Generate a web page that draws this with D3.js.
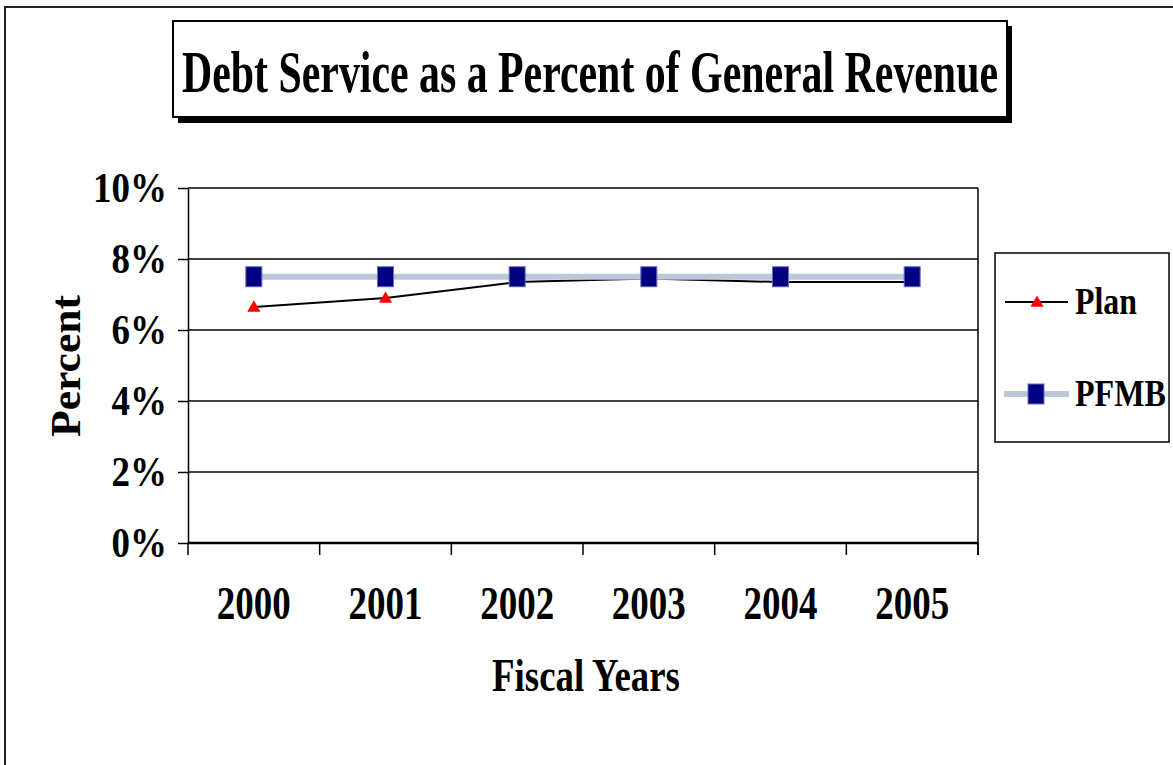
<!DOCTYPE html>
<html>
<head>
<meta charset="utf-8">
<script src="https://cdn.jsdelivr.net/npm/d3@7"></script>
<style>
  body { margin: 0; background: #fff; }
  svg { display: block; }
  text { font-family: "Liberation Serif", "Times New Roman", serif; font-weight: bold; fill: #000; }
</style>
</head>
<body>
<svg id="chart" width="1173" height="765"></svg>
<script>
// DATA
const years = ['2000', '2001', '2002', '2003', '2004', '2005']
const planValues = [0.0665, 0.069, 0.0735, 0.0745, 0.0735, 0.0735]
const pfmbValues = [0.075, 0.075, 0.075, 0.075, 0.075, 0.075]
const yTicks = [0, 0.02, 0.04, 0.06, 0.08, 0.10]
const seriesNames = ['Plan', 'PFMB']

const svg = d3.select('#chart')

// squeeze a text horizontally to a given width, anchored at (px, py)
function condensed(parent, str, px, py, size, width, anchor) {
    let g = parent.append('g')
    let t = g.append('text')
        .attr('font-size', size)
        .attr('text-anchor', anchor || 'start')
        .text(str)
    let k = width / t.node().getComputedTextLength()
    g.attr('transform', `translate(${px},${py}) scale(${k},1)`)
    return t
}

// OUTER FRAME
svg.append('rect')
    .attr('x', 5).attr('y', 7)
    .attr('width', 1200).attr('height', 800)
    .attr('fill', 'none')
    .attr('stroke', '#222')
    .attr('stroke-width', 2)

// TITLE BOX WITH SHADOW
svg.append('rect')
    .attr('x', 178).attr('y', 26)
    .attr('width', 834).attr('height', 97)
    .attr('fill', '#000')
svg.append('rect')
    .attr('x', 173).attr('y', 21)
    .attr('width', 834).attr('height', 96)
    .attr('fill', '#fff')
    .attr('stroke', '#000')
    .attr('stroke-width', 2)
condensed(svg, 'Debt Service as a Percent of General Revenue', 590, 92, 60, 816, 'middle')

// SCALES
const plot = {left: 188, right: 978, top: 188, bottom: 543}
let x = d3.scaleBand()
    .domain(years)
    .range([plot.left, plot.right])
    .padding(0)
let y = d3.scaleLinear()
    .domain([0, 0.10])
    .range([plot.bottom, plot.top])
const cx = d => x(d) + x.bandwidth() / 2

// GRIDLINES
svg.append('g')
    .selectAll('line')
    .data(yTicks.filter(t => t > 0))
    .join('line')
    .attr('x1', plot.left).attr('x2', plot.right)
    .attr('y1', d => y(d)).attr('y2', d => y(d))
    .attr('stroke', '#000')
    .attr('stroke-width', 1.5)

// RIGHT BORDER
svg.append('line')
    .attr('x1', plot.right).attr('x2', plot.right)
    .attr('y1', plot.top).attr('y2', plot.bottom + 12)
    .attr('stroke', '#000').attr('stroke-width', 1.5)

// Y AXIS
let yAxis = svg.append('g')
    .attr('transform', `translate(${plot.left},0)`)
    .call(d3.axisLeft(y).tickValues(yTicks).tickFormat(d3.format('.0%')).tickSize(10).tickPadding(11).tickSizeOuter(0))
yAxis.select('.domain').attr('stroke', '#000').attr('stroke-width', 1.5)
yAxis.selectAll('.tick line').attr('stroke', '#000').attr('stroke-width', 1.5)
yAxis.selectAll('.tick text')
    .attr('font-size', 42)
    .attr('font-family', '"Liberation Serif", serif')
    .attr('dy', '0.32em')
    .each(function() {
        d3.select(this).attr('textLength', this.getComputedTextLength() * 0.88)
            .attr('lengthAdjust', 'spacingAndGlyphs')
    })

// X AXIS
svg.append('line')
    .attr('x1', plot.left).attr('x2', plot.right)
    .attr('y1', plot.bottom).attr('y2', plot.bottom)
    .attr('stroke', '#000').attr('stroke-width', 2.5)
svg.append('g')
    .selectAll('line')
    .data(years.map(d => x(d)).concat([plot.right]))
    .join('line')
    .attr('x1', d => d).attr('x2', d => d)
    .attr('y1', plot.bottom).attr('y2', plot.bottom + 12)
    .attr('stroke', '#000').attr('stroke-width', 1.5)
let xLabels = svg.append('g')
years.forEach(d => condensed(xLabels, d, cx(d), 619, 46, 74, 'middle'))

// AXIS TITLES
condensed(svg, 'Fiscal Years', 586, 691, 46, 188, 'middle')
svg.append('text')
    .attr('transform', 'translate(80,366) rotate(-90)')
    .attr('text-anchor', 'middle')
    .attr('font-size', 42)
    .attr('textLength', 142)
    .attr('lengthAdjust', 'spacingAndGlyphs')
    .text('Percent')

// MARKERS
const triangle = d3.symbol().type(d3.symbolTriangle).size(75)
const drawSquare = (g, px, py) => g.append('rect')
    .attr('x', px - 8).attr('y', py - 10)
    .attr('width', 16).attr('height', 20)
    .attr('fill', '#000080')
    .attr('stroke', '#6a6ac0')
    .attr('stroke-width', 1)

// PLAN LINE
let line = d3.line().x((d, i) => cx(years[i])).y(d => y(d))
svg.append('path')
    .datum(planValues)
    .attr('d', line)
    .attr('fill', 'none')
    .attr('stroke', '#000')
    .attr('stroke-width', 2)
svg.append('g')
    .selectAll('path')
    .data(planValues)
    .join('path')
    .attr('d', triangle)
    .attr('transform', (d, i) => `translate(${cx(years[i])},${y(d) + 1})`)
    .attr('fill', '#ff0000')

// PFMB LINE
svg.append('path')
    .datum(pfmbValues)
    .attr('d', line)
    .attr('fill', 'none')
    .attr('stroke', '#bcc7d7')
    .attr('stroke-width', 6)
let pfmbG = svg.append('g')
pfmbValues.forEach((d, i) => drawSquare(pfmbG, cx(years[i]), y(d)))

// LEGEND
svg.append('rect')
    .attr('x', 995).attr('y', 253)
    .attr('width', 174).attr('height', 189)
    .attr('fill', '#fff')
    .attr('stroke', '#000')
    .attr('stroke-width', 1.5)
svg.append('line')
    .attr('x1', 1005).attr('x2', 1068)
    .attr('y1', 302).attr('y2', 302)
    .attr('stroke', '#000').attr('stroke-width', 2)
svg.append('path')
    .attr('d', triangle)
    .attr('transform', 'translate(1037,303)')
    .attr('fill', '#ff0000')
svg.append('line')
    .attr('x1', 1004).attr('x2', 1069)
    .attr('y1', 394).attr('y2', 394)
    .attr('stroke', '#bcc7d7').attr('stroke-width', 6)
drawSquare(svg, 1036, 394)
condensed(svg, seriesNames[0], 1075, 314, 39, 62)
condensed(svg, seriesNames[1], 1075, 406, 38, 91)
</script>
</body>
</html>
